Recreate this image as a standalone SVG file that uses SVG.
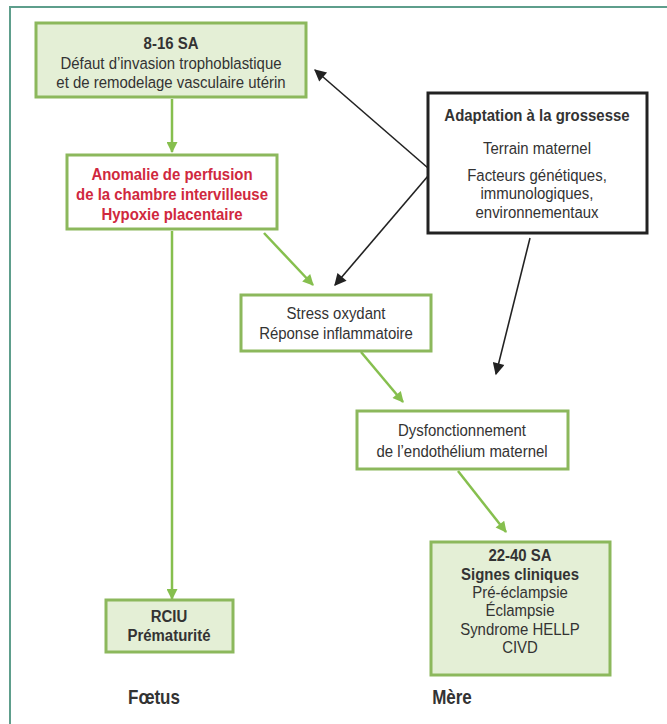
<svg xmlns="http://www.w3.org/2000/svg" width="667" height="724" viewBox="0 0 667 724">
<defs>
<style>
.t{font-family:"Liberation Sans",Arial,sans-serif;font-size:17px;fill:#333;text-anchor:middle;transform-box:fill-box;transform-origin:center;transform:scaleX(0.88)}
.b{font-weight:bold}
.red{fill:#d0283e;font-weight:bold}
.gbox{fill:#e4efd6;stroke:#8cb85c;stroke-width:3}
.wbox{fill:#ffffff;stroke:#8cb85c;stroke-width:3}
.kbox{fill:#ffffff;stroke:#222;stroke-width:3}
.ga{stroke:#86bf4e;stroke-width:2.5;fill:none;marker-end:url(#ah)}
.ka{stroke:#222;stroke-width:1.6;fill:none;marker-end:url(#ak)}
.lab{font-family:"Liberation Sans",Arial,sans-serif;font-size:20px;font-weight:bold;fill:#333;text-anchor:middle;transform-box:fill-box;transform-origin:center;transform:scaleX(0.85)}
</style>
<marker id="ah" viewBox="0 0 10 10" refX="9" refY="5" markerWidth="13" markerHeight="11" orient="auto" markerUnits="userSpaceOnUse">
<path d="M0,0 L10,5 L0,10 z" fill="#86bf4e"/>
</marker>
<marker id="ak" viewBox="0 0 10 10" refX="9" refY="5" markerWidth="14" markerHeight="12" orient="auto" markerUnits="userSpaceOnUse">
<path d="M0,0 L10,5 L0,10 z" fill="#222"/>
</marker>
</defs>
<rect x="0" y="0" width="667" height="724" fill="#ffffff"/>
<path d="M10,724 L10,7 L667,7" fill="none" stroke="#5e9e8c" stroke-width="2"/>

<g id="connectors">
<line class="ga" x1="172" y1="99" x2="172" y2="152"/>
<line class="ga" x1="172" y1="231" x2="172" y2="599"/>
<line class="ga" x1="264" y1="233" x2="313" y2="285"/>
<line class="ga" x1="361" y1="352" x2="403" y2="402"/>
<line class="ga" x1="458" y1="471" x2="506" y2="532"/>
<line class="ka" x1="428" y1="168" x2="315" y2="70"/>
<line class="ka" x1="428" y1="176" x2="335" y2="285"/>
<line class="ka" x1="530" y1="238" x2="496" y2="374"/>
</g>

<g id="n1">
<rect class="gbox" x="36" y="23" width="270" height="74"/>
<text class="t b" x="171" y="49">8-16 SA</text>
<text class="t" x="171" y="69">Défaut d’invasion trophoblastique</text>
<text class="t" x="171" y="88">et de remodelage vasculaire utérin</text>
</g>

<g id="n2">
<rect class="wbox" x="67" y="155" width="210" height="74"/>
<text class="t red" x="172" y="180">Anomalie de perfusion</text>
<text class="t red" x="172" y="200">de la chambre intervilleuse</text>
<text class="t red" x="172" y="220">Hypoxie placentaire</text>
</g>

<g id="n3">
<rect class="kbox" x="428" y="93" width="219" height="140"/>
<text class="t b" x="537" y="121">Adaptation à la grossesse</text>
<text class="t" x="537" y="154">Terrain maternel</text>
<text class="t" x="537" y="181">Facteurs génétiques,</text>
<text class="t" x="537" y="199">immunologiques,</text>
<text class="t" x="537" y="218">environnementaux</text>
</g>

<g id="n4">
<rect class="wbox" x="241" y="295" width="190" height="56"/>
<text class="t" x="336" y="319">Stress oxydant</text>
<text class="t" x="336" y="339">Réponse inflammatoire</text>
</g>

<g id="n5">
<rect class="wbox" x="357" y="411" width="211" height="58"/>
<text class="t" x="462" y="436">Dysfonctionnement</text>
<text class="t" x="462" y="457">de l’endothélium maternel</text>
</g>

<g id="n6">
<rect class="gbox" x="106" y="600" width="127" height="52"/>
<text class="t b" x="169" y="622">RCIU</text>
<text class="t b" x="169" y="641">Prématurité</text>
</g>

<g id="n7">
<rect class="gbox" x="431" y="542" width="179" height="133"/>
<text class="t b" x="520" y="561">22-40 SA</text>
<text class="t b" x="520" y="580">Signes cliniques</text>
<text class="t" x="520" y="598">Pré-éclampsie</text>
<text class="t" x="520" y="616">Éclampsie</text>
<text class="t" x="520" y="635">Syndrome HELLP</text>
<text class="t" x="520" y="653">CIVD</text>
</g>

<text class="lab" x="154" y="704">Fœtus</text>
<text class="lab" x="452" y="704">Mère</text>
</svg>
